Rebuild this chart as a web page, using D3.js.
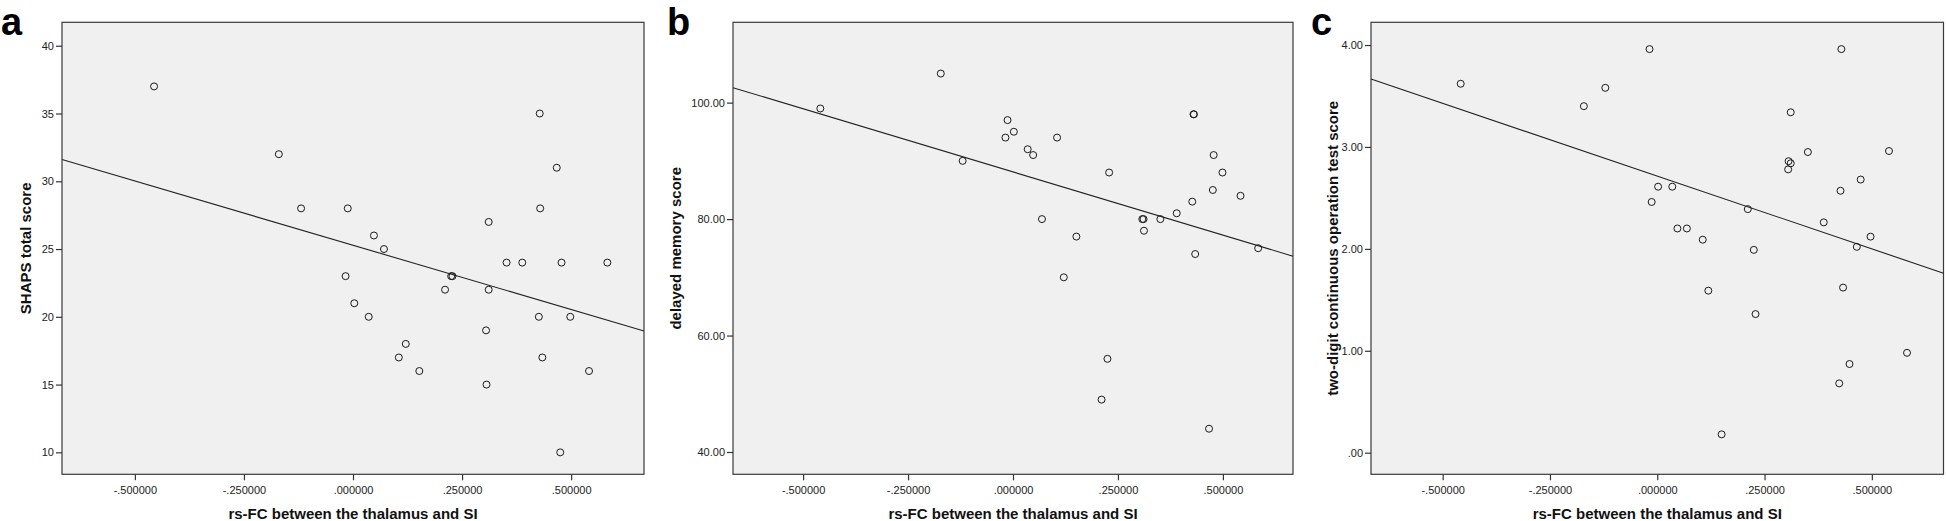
<!DOCTYPE html>
<html lang="en">
<meta charset="utf-8">
<style>
body { margin: 0; background: #fff; }
svg { display: block; font-family: "Liberation Sans", Arial, sans-serif; }
.frame { fill: #f0f0f0; stroke: #3a3a3a; stroke-width: 1.2px; }
.dot { fill: none; stroke: #1a1a1a; stroke-width: 1px; }
.fit { fill: none; stroke: #222; stroke-width: 1.1px; }
.tick text { font-family: "Liberation Sans", Arial, sans-serif; font-size: 11px; fill: #222; }
.tick line { stroke: #333; stroke-width: 1.2px; }
.axis-title { font-size: 15px; font-weight: bold; fill: #111; }
.letter { font-size: 38px; font-weight: bold; fill: #000; }
</style>
<body>
<script src="https://d3js.org/d3.v7.min.js"></script>
<script>

// shared x axis (rs-FC between the thalamus and SI)
var xDomain = [-0.667, 0.667];
var xTicks = [-0.5, -0.25, 0, 0.25, 0.5];
var xTickLabels = ["-.500000", "-.250000", ".000000", ".250000", ".500000"];
var xTitle = "rs-FC between the thalamus and SI";

// panel a - SHAPS total score
var xA = [-0.456, -0.170, -0.119, -0.012, 0.048, 0.071, 0.311, 0.428, 0.467, 0.429,
          0.352, 0.388, 0.478, 0.583, -0.017, 0.225, 0.228, 0.211, 0.311, 0.003,
          0.036, 0.426, 0.498, 0.305, 0.121, 0.105, 0.434, 0.152, 0.541, 0.306, 0.475];
var yA = [37, 32, 28, 28, 26, 25, 27, 35, 31, 28,
          24, 24, 24, 24, 23, 23, 23, 22, 22, 21,
          20, 20, 20, 19, 18, 17, 17, 16, 16, 15, 10];
var fitA = [25.28, -9.48];          // intercept, slope
var yDomainA = [8.38, 41.73];
var yTicksA = [10, 15, 20, 25, 30, 35, 40];
var yTickLabelsA = ["10", "15", "20", "25", "30", "35", "40"];

// panel b - delayed memory score
var xB = [-0.459, -0.172, -0.120, -0.018, -0.013, 0.002, 0.035, 0.048, 0.105, 0.069,
          0.151, 0.229, 0.308, 0.311, 0.312, 0.351, 0.390, 0.427, 0.430, 0.431,
          0.434, 0.476, 0.478, 0.499, 0.542, 0.584, 0.121, 0.225, 0.211, 0.467];
var yB = [99, 105, 90, 94, 97, 95, 92, 91, 94, 80,
          77, 88, 80, 80, 78, 80, 81, 83, 98, 98,
          74, 85, 91, 88, 84, 75, 70, 56, 49, 44];
var fitB = [88.1, -21.7];
var yDomainB = [36.17, 113.8];
var yTicksB = [40, 60, 80, 100];
var yTickLabelsB = ["40.00", "60.00", "80.00", "100.00"];

// panel c - two-digit continuous operation test score
var xC = [-0.458, -0.018, -0.121, -0.171, 0.311, 0.429, 0.351, 0.540, 0.306, 0.311,
          0.305, 0.474, 0.427, 0.002, 0.035, -0.013, 0.211, 0.388, 0.047, 0.069,
          0.106, 0.497, 0.465, 0.225, 0.119, 0.433, 0.229, 0.582, 0.448, 0.424, 0.150];
var yC = [3.62, 3.96, 3.58, 3.40, 3.34, 3.96, 2.95, 2.96, 2.86, 2.84,
          2.78, 2.68, 2.57, 2.61, 2.61, 2.46, 2.39, 2.26, 2.20, 2.20,
          2.09, 2.12, 2.02, 1.99, 1.59, 1.62, 1.36, 0.98, 0.87, 0.68, 0.18];
var fitC = [2.714, -1.428];
var yDomainC = [-0.212, 4.223];
var yTicksC = [0, 1, 2, 3, 4];
var yTickLabelsC = [".00", "1.00", "2.00", "3.00", "4.00"];

var width = 1946, height = 521;
var frameTop = 22.3, frameBottom = 474.3;

var panels = [
  {letter: "a", xs: xA, ys: yA, fit: fitA, yDomain: yDomainA, yTicks: yTicksA, yLabels: yTickLabelsA,
   yTitle: "SHAPS total score", left: 62, right: 644, letterX: 1, titleX: 31},
  {letter: "b", xs: xB, ys: yB, fit: fitB, yDomain: yDomainB, yTicks: yTicksB, yLabels: yTickLabelsB,
   yTitle: "delayed memory score", left: 733, right: 1293, letterX: 667, titleX: 680.5},
  {letter: "c", xs: xC, ys: yC, fit: fitC, yDomain: yDomainC, yTicks: yTicksC, yLabels: yTickLabelsC,
   yTitle: "two-digit continuous operation test score", left: 1371, right: 1943.5, letterX: 1311, titleX: 1338}
];

var svg = d3.select("body").append("svg")
    .attr("width", width)
    .attr("height", height);

panels.forEach(function(p) {
  var g = svg.append("g");

  var x = d3.scaleLinear().domain(xDomain).range([p.left, p.right]);
  var y = d3.scaleLinear().domain(p.yDomain).range([frameBottom, frameTop]);

  g.append("rect")
      .attr("class", "frame")
      .attr("x", p.left)
      .attr("y", frameTop)
      .attr("width", p.right - p.left)
      .attr("height", frameBottom - frameTop);

  var yAxis = g.append("g")
      .attr("transform", "translate(" + p.left + ",0)")
      .call(d3.axisLeft(y)
        .tickValues(p.yTicks)
        .tickFormat(function(d) { return p.yLabels[p.yTicks.indexOf(d)]; })
        .tickSize(6)
        .tickSizeOuter(0)
        .tickPadding(2));
  yAxis.select(".domain").remove();

  var xAxis = g.append("g")
      .attr("transform", "translate(0," + frameBottom + ")")
      .call(d3.axisBottom(x)
        .tickValues(xTicks)
        .tickFormat(function(d) { return xTickLabels[xTicks.indexOf(d)]; })
        .tickSize(6)
        .tickSizeOuter(0)
        .tickPadding(6));
  xAxis.select(".domain").remove();

  // fit line across the whole x range
  g.append("line")
      .attr("class", "fit")
      .attr("x1", x(xDomain[0]))
      .attr("y1", y(p.fit[0] + p.fit[1] * xDomain[0]))
      .attr("x2", x(xDomain[1]))
      .attr("y2", y(p.fit[0] + p.fit[1] * xDomain[1]));

  g.selectAll("circle.dot")
      .data(d3.zip(p.xs, p.ys))
      .join("circle")
      .attr("class", "dot")
      .attr("r", 3.5)
      .attr("cx", function(d) { return x(d[0]); })
      .attr("cy", function(d) { return y(d[1]); });

  g.append("text")
      .attr("class", "axis-title")
      .attr("x", (p.left + p.right) / 2)
      .attr("y", 519)
      .attr("text-anchor", "middle")
      .text(xTitle);

  g.append("text")
      .attr("class", "axis-title")
      .attr("transform", "translate(" + p.titleX + "," + ((frameTop + frameBottom) / 2) + ") rotate(-90)")
      .attr("text-anchor", "middle")
      .text(p.yTitle);

  g.append("text")
      .attr("class", "letter")
      .attr("x", p.letterX)
      .attr("y", 35)
      .text(p.letter);
});

</script>
</body>
</html>
